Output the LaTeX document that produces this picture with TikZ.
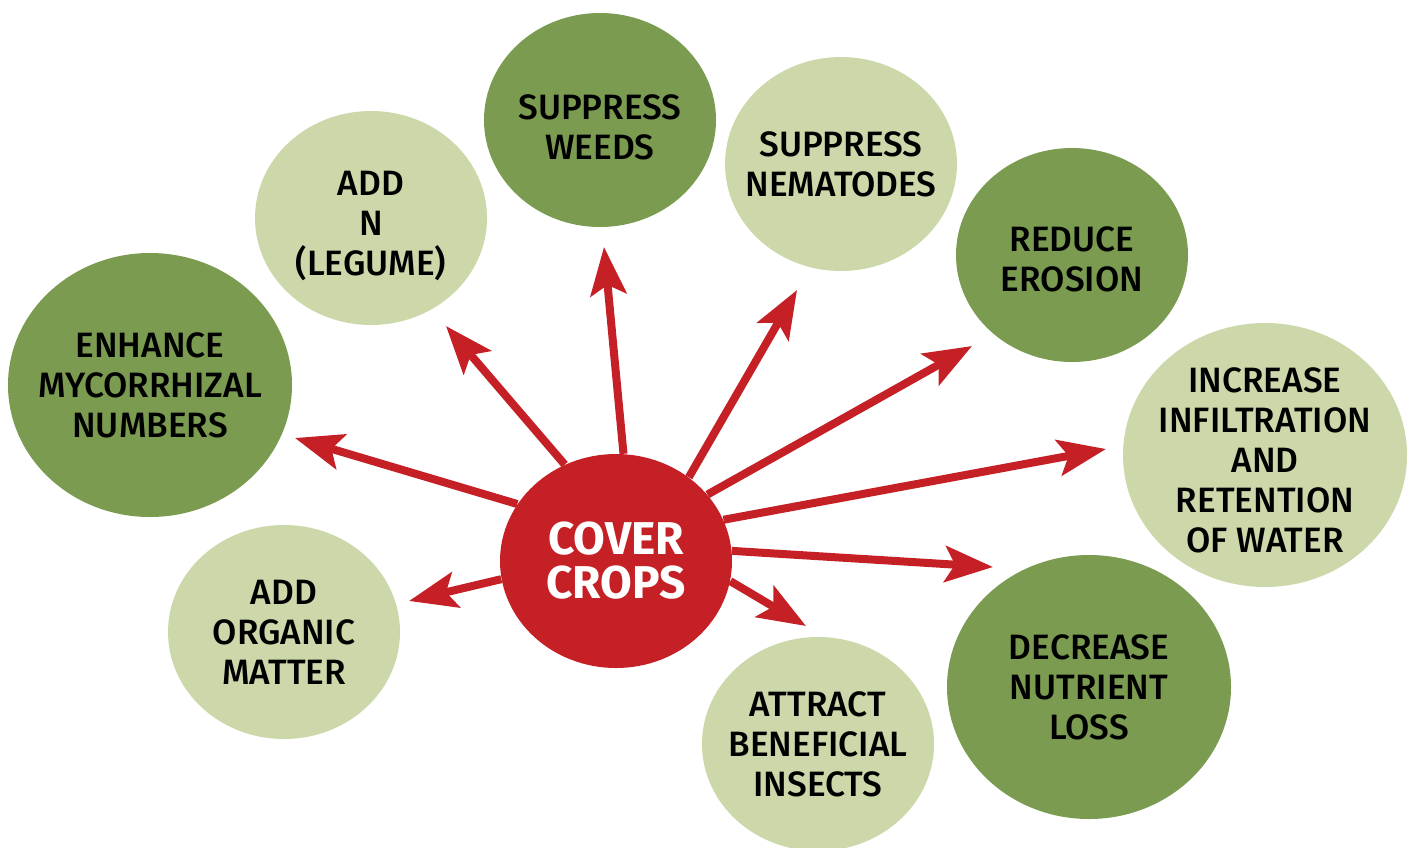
\documentclass[tikz,border=0pt]{standalone}
\usepackage{fontspec}
\setmainfont{Fira Sans}
\newfontfamily\midweight{Fira Sans Medium}
\usetikzlibrary{shapes.geometric,arrows.meta}
\definecolor{cropred}{RGB}{198,32,39}
\definecolor{darkleaf}{RGB}{122,155,80}
\definecolor{paleleaf}{RGB}{204,216,170}

\begin{document}
\begin{tikzpicture}[x=0.5pt,y=-0.5pt,
  blob/.style={ellipse,inner sep=0pt},
  words/.style={align=center,font=\fontsize{17.6}{20}\selectfont\midweight},
  small/.style={blob,minimum width=116pt,minimum height=107pt},
  big/.style={blob,minimum width=142pt,minimum height=132pt},
  dark/.style={fill=darkleaf},
  pale/.style={fill=paleleaf},
  benefit/.style={draw=cropred,line width=4pt,-{Stealth[length=24pt,width=18pt,inset=5pt]}}]
  \useasboundingbox (0,0) rectangle (1413,847);
  % benefits around the centre
  \node[small,dark,label={[words,yshift=-3.5pt]center:SUPPRESS\\WEEDS}] (weeds) at (600,120) {};
  \node[small,pale,label={[words,yshift=-4pt]center:ADD\\N\\(LEGUME)}] (addn) at (371,218) {};
  \node[small,pale,label={[words]center:SUPPRESS\\NEMATODES}] (nema) at (841,164) {};
  \node[small,dark,label={[words,yshift=-2pt]center:REDUCE\\EROSION}] (erosion) at (1072,255) {};
  \node[big,dark,label={[words]center:ENHANCE\\MYCORRHIZAL\\NUMBERS}] (myco) at (150,385) {};
  \node[big,pale,label={[words,yshift=-2.5pt]center:INCREASE\\INFILTRATION\\AND\\RETENTION\\OF WATER}] (water) at (1265,455) {};
  \node[small,pale,label={[words]center:ADD\\ORGANIC\\MATTER}] (organic) at (284,632) {};
  \node[big,dark,label={[words]center:DECREASE\\NUTRIENT\\LOSS}] (loss) at (1089,687) {};
  \node[small,pale,label={[words]center:ATTRACT\\BENEFICIAL\\INSECTS}] (insects) at (818,744) {};
  % arrow tips, short of each benefit
  \coordinate (tMyco) at (295,438);
  \coordinate (tAddn) at (446,326);
  \coordinate (tWeeds) at (604,247);
  \coordinate (tNema) at (797,290);
  \coordinate (tErosion) at (972,346);
  \coordinate (tWater) at (1106,449);
  \coordinate (tLoss) at (993,567);
  \coordinate (tInsects) at (806,626);
  \coordinate (tOrganic) at (409,601);
  % centre
  \node[small,fill=cropred,label={[align=center,text=white,font=\fontsize{23}{22}\selectfont\bfseries]center:COVER\\CROPS}] (cc) at (616,561) {};
  \draw[benefit] (cc.150) -- (tMyco);
  \draw[benefit] (cc.118) -- (tAddn);
  \draw[benefit] (cc.86) -- (tWeeds);
  \draw[benefit] (cc.49) -- (tNema);
  \draw[benefit] (cc.36) -- (tErosion);
  \draw[benefit] (cc.21) -- (tWater);
  \draw[benefit] (cc.5) -- (tLoss);
  \draw[benefit] (cc.-10) -- (tInsects);
  \draw[benefit] (cc.189) -- (tOrganic);
\end{tikzpicture}
\end{document}
